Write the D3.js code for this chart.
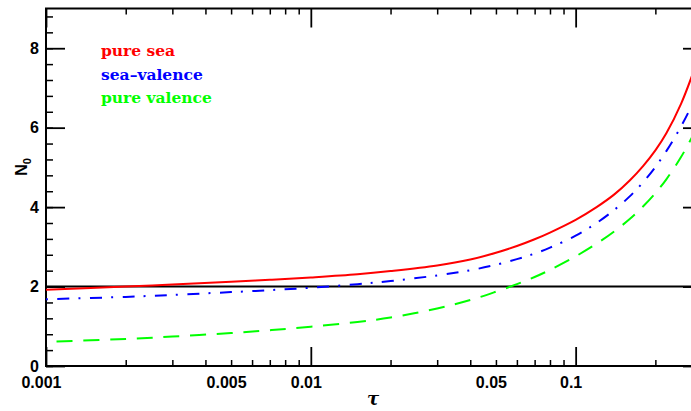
<!DOCTYPE html>
<html><head><meta charset="utf-8">
<script src="https://cdn.jsdelivr.net/npm/d3@7"></script>
<style>body{margin:0;background:#fff}svg{display:block}</style>
</head><body>
<svg id="c" width="691" height="411"></svg>
<script>
const tau = [0.001,0.002,0.003,0.005,0.007,0.01,0.015,0.02,0.03,0.04,0.05,0.06,0.07,0.08,0.1,0.12,0.14,0.16,0.18,0.2,0.22,0.25,0.28,0.3];
const pureSea = [1.92,2.0,2.05,2.12,2.17,2.23,2.31,2.39,2.53,2.68,2.85,3.02,3.19,3.36,3.68,4.00,4.32,4.67,5.04,5.43,5.86,6.60,7.45,8.05];
const seaValence = [1.68,1.74,1.79,1.86,1.91,1.97,2.06,2.14,2.28,2.41,2.55,2.69,2.83,2.98,3.28,3.60,3.93,4.27,4.63,5.01,5.41,6.03,6.68,7.13];
const pureValence = [0.61,0.68,0.74,0.83,0.90,0.99,1.11,1.22,1.45,1.66,1.87,2.06,2.24,2.42,2.76,3.08,3.39,3.70,4.02,4.35,4.70,5.26,5.86,6.28];
const refLevel = 2;
const xMajor = [0.001,0.01,0.1];
const xMinor = [0.002,0.003,0.004,0.005,0.006,0.007,0.008,0.009,0.02,0.03,0.04,0.05,0.06,0.07,0.08,0.09,0.2,0.3];
const xLabels = ["0.001","0.005","0.01","0.05","0.1"];
const xLabelVals = [0.001,0.005,0.01,0.05,0.1];
const yMajor = [0,2,4,6,8];
const yMinor = d3.range(0,9.01,0.4);
const legend = ["pure sea","sea\u2013valence","pure valence"];

const L=46,R=702,T=8.5,B=366;
const svg=d3.select("#c");
const x=d3.scaleLog().domain([0.001,0.3]).range([L,R]);
const y=d3.scaleLinear().domain([0,9]).range([B,T]);

svg.append("defs").append("clipPath").attr("id","cp").append("rect")
  .attr("x",L).attr("y",T).attr("width",R-L).attr("height",B-T);

function ax(gen,vals,size,tr,sw){
  const g=svg.append("g").attr("transform",tr)
    .call(gen.tickValues(vals).tickSize(size).tickFormat(""));
  g.select(".domain").remove();
  g.selectAll("line").attr("stroke","#000").attr("stroke-width",sw);
}
ax(d3.axisBottom(x),xMajor,-19,`translate(0,${B})`,1.8);
ax(d3.axisBottom(x),xMinor,-6,`translate(0,${B})`,1.5);
ax(d3.axisTop(x),xMajor,-19,`translate(0,${T})`,1.8);
ax(d3.axisTop(x),xMinor,-6,`translate(0,${T})`,1.5);
ax(d3.axisLeft(y),yMajor,-19,`translate(${L},0)`,1.8);
ax(d3.axisLeft(y),yMinor,-7,`translate(${L},0)`,1.5);
ax(d3.axisRight(y),yMajor,-19,`translate(${R},0)`,1.8);
ax(d3.axisRight(y),yMinor,-7,`translate(${R},0)`,1.5);

svg.append("rect").attr("x",L).attr("y",T).attr("width",R-L).attr("height",B-T)
  .attr("fill","none").attr("stroke","#000").attr("stroke-width",2);

const font="'Liberation Sans',Arial,sans-serif";
svg.append("g").selectAll("text").data(xLabelVals).join("text")
  .attr("x",d=>x(d)-4.5).attr("y",388).attr("text-anchor","middle")
  .attr("font-family",font).attr("font-weight","bold").attr("font-size",16)
  .text((d,i)=>xLabels[i]);
svg.append("g").selectAll("text").data(yMajor).join("text")
  .attr("x",39).attr("y",d=>y(d)+5.5).attr("text-anchor","end")
  .attr("font-family",font).attr("font-weight","bold").attr("font-size",16)
  .text(d=>d);

svg.append("text").attr("x",373).attr("y",405).attr("text-anchor","middle")
  .attr("font-family","'DejaVu Serif',serif").attr("font-style","italic").attr("font-weight","bold")
  .attr("font-size",18).text("\u03c4");
const yt=svg.append("text").attr("transform","translate(27,167) rotate(-90)")
  .attr("text-anchor","middle").attr("font-family",font).attr("font-weight","bold").attr("font-size",16);
yt.append("tspan").text("N");
yt.append("tspan").attr("font-size",11).attr("dy",4).text("0");

const plot=svg.append("g").attr("clip-path","url(#cp)");
plot.append("line").attr("x1",L).attr("x2",R).attr("y1",y(refLevel)).attr("y2",y(refLevel))
  .attr("stroke","#000").attr("stroke-width",2);

const line=d3.line().x((d,i)=>x(tau[i])).y(d=>y(d)).curve(d3.curveCatmullRom.alpha(0.5));
const series=[
  {v:pureValence,c:"#00ff00",dash:"16,10.7",off:16},
  {v:seaValence,c:"#0000ff",dash:"12,9,2,9.5",off:21},
  {v:pureSea,c:"#ff0000",dash:null,off:0}
];
series.forEach(s=>{
  const p=plot.append("path").attr("d",line(s.v)).attr("fill","none")
    .attr("stroke",s.c).attr("stroke-width",2);
  if(s.dash) p.attr("stroke-dasharray",s.dash).attr("stroke-dashoffset",s.off);
});

const lc=["#ff0000","#0000ff","#00ff00"];
svg.append("g").selectAll("text").data(legend).join("text")
  .attr("x",101).attr("y",(d,i)=>56+i*23.5)
  .attr("font-family","'DejaVu Serif',serif").attr("font-weight","bold").attr("font-size",15.5)
  .attr("fill",(d,i)=>lc[i]).text(d=>d);
</script>
</body></html>
